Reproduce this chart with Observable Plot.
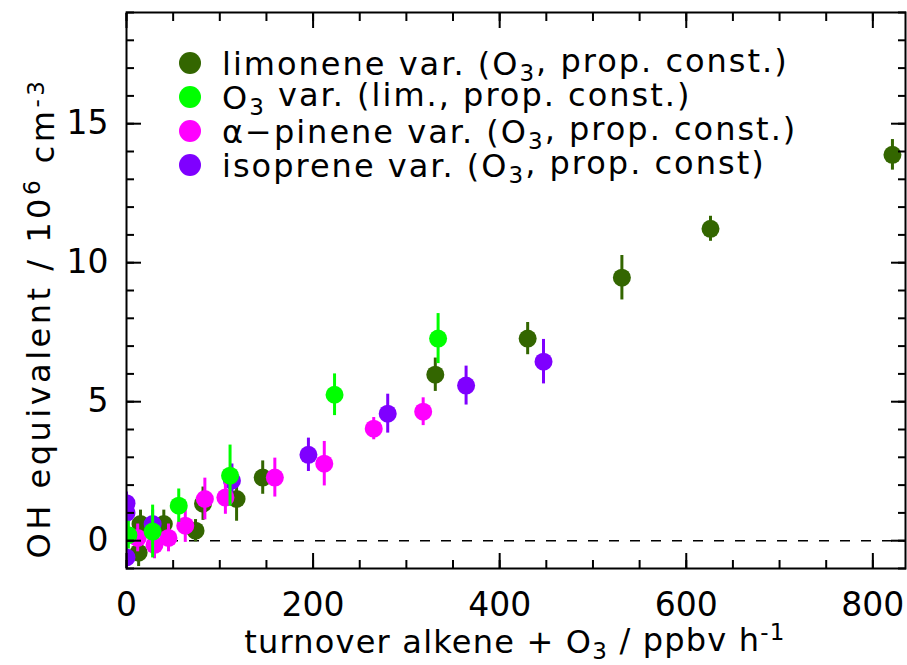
<!DOCTYPE html>
<html><head><meta charset="utf-8">
<script src="https://cdn.jsdelivr.net/npm/d3@7"></script>
<script src="https://cdn.jsdelivr.net/npm/@observablehq/plot@0.6"></script>
<style>
body{margin:0;background:#fff}
svg{display:block}
</style>
</head><body><div id="chart"></div>
<script>
// ---- data ----
const seriesNames = ["limonene", "O3", "apinene", "isoprene"];
const seriesColors = ["#336600", "#00ff00", "#ff00ff", "#7f00ff"];

const limoneneX   = [821, 626, 531, 430, 331, 146, 118, 82, 74, 40, 15, 13];
const limoneneY   = [13.88, 11.22, 9.46, 7.27, 5.97, 2.27, 1.5, 1.33, 0.36, 0.6, 0.6, -0.43];
const limoneneErr = [0.55, 0.45, 0.8, 0.58, 0.6, 0.6, 0.8, 0.6, 0.4, 0.5, 0.5, 0.5];

const ozoneX   = [334, 223, 111, 56, 28, 2];
const ozoneY   = [7.27, 5.25, 2.34, 1.26, 0.33, 0.2];
const ozoneErr = [0.9, 0.75, 1.1, 0.6, 0.95, 0.5];

const pineneX   = [318, 265, 212, 159, 106, 84, 63, 45, 30, 12];
const pineneY   = [4.64, 4.03, 2.77, 2.27, 1.55, 1.5, 0.54, 0.1, -0.15, 0.1];
const pineneErr = [0.5, 0.4, 0.8, 0.7, 0.6, 0.75, 0.6, 0.5, 0.5, 0.5];

const isopreneX   = [447, 364, 280, 195, 113, 28, 0, 0, 0];
const isopreneY   = [6.44, 5.58, 4.57, 3.09, 2.16, 0.6, 1.35, 1.0, -0.6];
const isopreneErr = [0.8, 0.7, 0.7, 0.6, 0.6, 0.5, 0.4, 0.4, 0.4];

const xTicks = [0, 200, 400, 600, 800];
const yTicks = [0, 5, 10, 15];
const legendLabels = [
  ["limonene var. (O", "3", ", prop. const.)"],
  ["O", "3", " var. (lim., prop. const.)"],
  ["\u03b1\u2212pinene var. (O", "3", ", prop. const.)"],
  ["isoprene var. (O", "3", ", prop. const)"]
];

// ---- build tables ----
function rows(xs, ys, es) { return xs.map((x, i) => ({x, y: ys[i], e: es[i]})); }
const series = [
  {name: seriesNames[0], color: seriesColors[0], data: rows(limoneneX, limoneneY, limoneneErr)},
  {name: seriesNames[3], color: seriesColors[3], data: rows(isopreneX, isopreneY, isopreneErr)},
  {name: seriesNames[2], color: seriesColors[2], data: rows(pineneX, pineneY, pineneErr)},
  {name: seriesNames[1], color: seriesColors[1], data: rows(ozoneX, ozoneY, ozoneErr)}
];

const FONT = "DejaVu Sans";
const marks = [Plot.ruleY([0], {stroke: "black", strokeWidth: 1.5, strokeDasharray: "10,11"})];
for (const s of series) {
  marks.push(Plot.ruleX(s.data, {x: "x", y1: d => d.y - d.e, y2: d => d.y + d.e, stroke: s.color, strokeWidth: 3, clip: true}));
  marks.push(Plot.dot(s.data, {x: "x", y: "y", r: 9, fill: s.color, stroke: "none", clip: true}));
}
const minorX = d3.range(0, 835, 50);
const minorY = d3.range(-1, 19.01, 1);
marks.push(
  Plot.frame({stroke: "black", strokeWidth: 2}),
  Plot.axisX({anchor: "bottom", ticks: xTicks, tickSize: -15, text: null, label: null, strokeWidth: 2}),
  Plot.axisX({anchor: "top", ticks: xTicks, tickSize: -15, text: null, label: null, strokeWidth: 2}),
  Plot.axisX({anchor: "bottom", ticks: minorX, tickSize: -8, text: null, label: null, strokeWidth: 2}),
  Plot.axisX({anchor: "top", ticks: minorX, tickSize: -8, text: null, label: null, strokeWidth: 2}),
  Plot.axisY({anchor: "left", ticks: yTicks, tickSize: -15, text: null, label: null, strokeWidth: 2}),
  Plot.axisY({anchor: "right", ticks: yTicks, tickSize: -15, text: null, label: null, strokeWidth: 2}),
  Plot.axisY({anchor: "left", ticks: minorY, tickSize: -8, text: null, label: null, strokeWidth: 2}),
  Plot.axisY({anchor: "right", ticks: minorY, tickSize: -8, text: null, label: null, strokeWidth: 2}),
  Plot.axisX({anchor: "bottom", ticks: xTicks, tickSize: 0, tickPadding: 24, label: null, fontSize: 33, fill: "black"}),
  Plot.axisY({anchor: "left", ticks: yTicks, tickSize: 0, tickPadding: 18, label: null, fontSize: 33, fill: "black"})
);

const svg = Plot.plot({
  width: 907, height: 665,
  marginLeft: 126, marginRight: 2, marginTop: 12, marginBottom: 97,
  style: {fontFamily: FONT, background: "white", color: "black"},
  x: {domain: [0, 835]},
  y: {domain: [-1, 19]},
  marks
});
document.getElementById("chart").appendChild(svg);

// ---- legend & axis titles (real text) ----
const root = d3.select(svg);
const lg = root.append("g").attr("font-family", FONT).attr("font-size", 32).attr("text-anchor", "start");
legendLabels.forEach((parts, i) => {
  const cy = 63 + i * 34;
  lg.append("circle").attr("cx", 190).attr("cy", cy).attr("r", 11).attr("fill", seriesColors[i]);
  const t = lg.append("text").attr("x", 222).attr("y", cy).attr("dy", "0.36em").attr("fill", "black").style("letter-spacing", "2px");
  t.append("tspan").text(parts[0]);
  t.append("tspan").attr("dy", "0.3em").attr("font-size", 23).text(parts[1]);
  t.append("tspan").attr("dy", "-0.3em").text(parts[2]);
});

const xt = root.append("text").attr("x", 515).attr("y", 653).attr("text-anchor", "middle")
  .attr("font-family", FONT).attr("font-size", 32).attr("fill", "black").style("letter-spacing", "1.2px");
xt.append("tspan").text("turnover alkene + O");
xt.append("tspan").attr("dy", "0.25em").attr("font-size", 23).text("3");
xt.append("tspan").attr("dy", "-0.25em").text(" / ppbv h");
xt.append("tspan").attr("dy", "-0.45em").attr("font-size", 23).text("-1");

const yt = root.append("text").attr("transform", "translate(50,318) rotate(-90)").attr("text-anchor", "middle")
  .attr("font-family", FONT).attr("font-size", 32).attr("fill", "black").style("letter-spacing", "3.5px");
yt.append("tspan").text("OH equivalent / 10");
yt.append("tspan").attr("dy", "-0.45em").attr("font-size", 23).text("6");
yt.append("tspan").attr("dy", "0.45em").text(" cm");
yt.append("tspan").attr("dy", "-0.45em").attr("font-size", 23).text("-3");
</script>
</body></html>
